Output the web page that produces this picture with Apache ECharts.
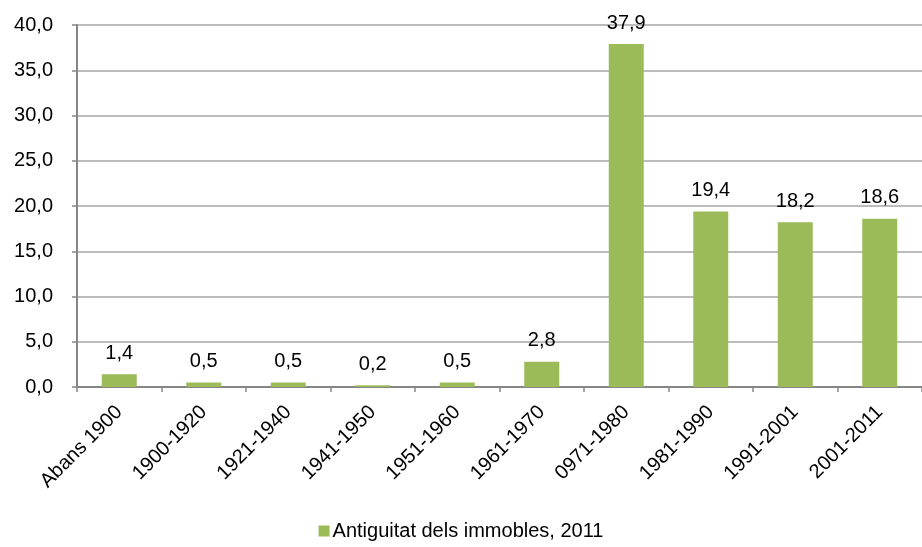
<!DOCTYPE html>
<html>
<head>
<meta charset="utf-8">
<script src="https://cdn.jsdelivr.net/npm/echarts@6/dist/echarts.min.js"></script>
<style>
  html, body { margin: 0; padding: 0; background: #fff; }
  #chart { width: 922px; height: 547px; }
</style>
</head>
<body>
<div id="chart"></div>
<script>
// Building age periods and share of buildings (%)
const categories = ['Abans 1900', '1900-1920', '1921-1940', '1941-1950', '1951-1960',
                    '1961-1970', '0971-1980', '1981-1990', '1991-2001', '2001-2011'];
const values = [1.4, 0.5, 0.5, 0.2, 0.5, 2.8, 37.9, 19.4, 18.2, 18.6];
const seriesName = 'Antiguitat dels immobles, 2011';
const yTicks = { min: 0, max: 40, interval: 5 };

const fmt = v => Number(v).toFixed(1).replace('.', ',');
const font = '"Liberation Sans", Arial, sans-serif';
const fs = 20;

const chart = echarts.init(document.getElementById('chart'), null, { renderer: 'canvas' });
chart.setOption({
  animation: false,
  textStyle: { fontFamily: font },
  grid: { left: 77, top: 25, width: 849, bottom: 160, containLabel: false },
  legend: {
    top: 521,
    left: 'center',
    padding: 0,
    itemWidth: 11,
    itemHeight: 11,
    itemGap: 10,
    icon: 'rect',
    textStyle: { fontFamily: font, fontSize: fs, color: '#000', padding: [0, 0, 0, -2] },
    data: [seriesName]
  },
  xAxis: {
    type: 'category',
    data: categories,
    axisLine: { lineStyle: { color: '#868686', width: 2 } },
    axisTick: { show: true, length: 5, lineStyle: { color: '#868686', width: 1.5 } },
    axisLabel: { rotate: 45, margin: 22, fontSize: fs, color: '#000', fontFamily: font, interval: 0 }
  },
  yAxis: {
    type: 'value',
    min: yTicks.min,
    max: yTicks.max,
    interval: yTicks.interval,
    axisLine: { show: true, lineStyle: { color: '#868686', width: 2 } },
    axisTick: { show: true, length: 5, lineStyle: { color: '#868686', width: 1.5 } },
    axisLabel: { margin: 24, fontSize: fs, color: '#000', fontFamily: font, formatter: fmt },
    splitLine: { lineStyle: { color: '#A6A6A6', width: 1.5 } }
  },
  series: [{
    name: seriesName,
    type: 'bar',
    data: values,
    barWidth: 35,
    itemStyle: { color: '#9BBB59' },
    label: {
      show: true,
      position: 'top',
      distance: 11,
      fontSize: fs,
      color: '#000',
      fontFamily: font,
      formatter: p => fmt(p.value)
    }
  }]
});
</script>
</body>
</html>
